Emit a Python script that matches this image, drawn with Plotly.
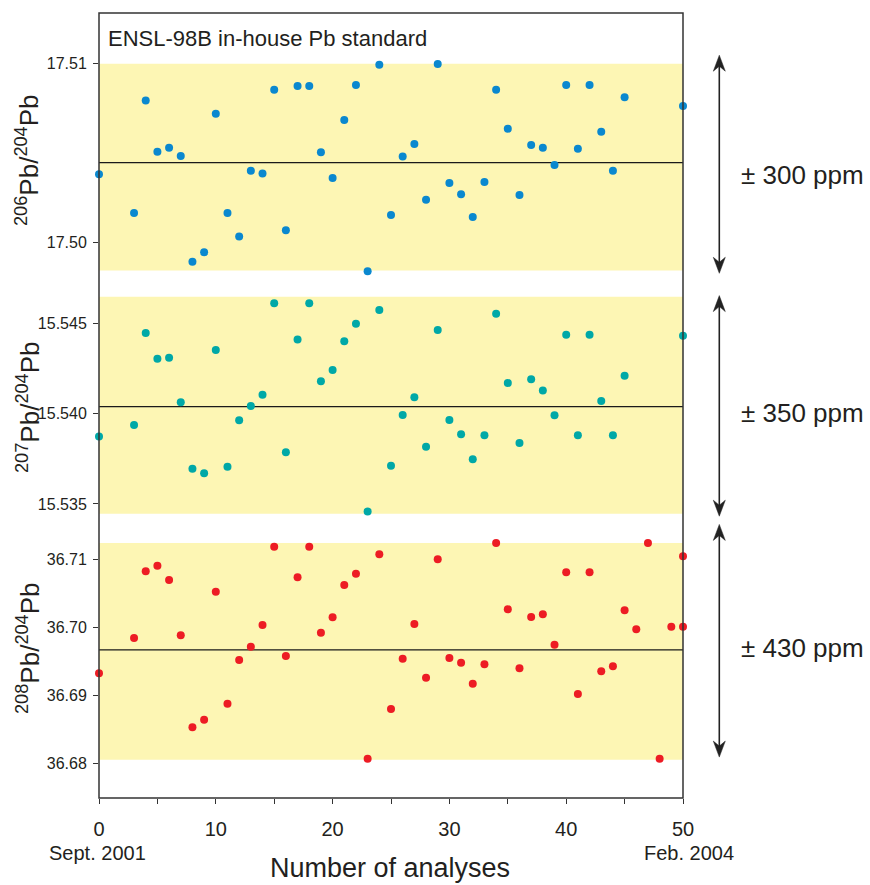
import plotly.graph_objects as go

# ---------------- data ----------------
x_206 = [0, 3, 4, 5, 6, 7, 8, 9, 10, 11, 12, 13, 14, 15, 16, 17, 18, 19, 20, 21, 22, 23, 24, 25,
         26, 27, 28, 29, 30, 31, 32, 33, 34, 35, 36, 37, 38, 39, 40, 41, 42, 43, 44, 45, 50]
pb206_204 = [17.50382, 17.50166, 17.50795, 17.50508, 17.50531, 17.50484, 17.49894, 17.49946,
             17.50721, 17.50166, 17.50035, 17.50402, 17.50387, 17.50855, 17.50069, 17.50875,
             17.50875, 17.50505, 17.50361, 17.50685, 17.50881, 17.49840, 17.50994, 17.50155,
             17.50482, 17.50551, 17.50240, 17.50998, 17.50333, 17.50270, 17.50144, 17.50339,
             17.50855, 17.50637, 17.50266, 17.50546, 17.50531, 17.50434, 17.50881, 17.50525,
             17.50881, 17.50620, 17.50402, 17.50812, 17.50764]

x_207 = [0, 3, 4, 5, 6, 7, 8, 9, 10, 11, 12, 13, 14, 15, 16, 17, 18, 19, 20, 21, 22, 23, 24, 25,
         26, 27, 28, 29, 30, 31, 32, 33, 34, 35, 36, 37, 38, 39, 40, 41, 42, 43, 44, 45, 50]
pb207_204 = [15.53875, 15.53938, 15.54448, 15.54306, 15.54311, 15.54064, 15.53696, 15.53670,
             15.54354, 15.53707, 15.53964, 15.54044, 15.54106, 15.54613, 15.53787, 15.54413,
             15.54613, 15.54181, 15.54243, 15.54402, 15.54500, 15.53459, 15.54576, 15.53712,
             15.53994, 15.54092, 15.53818, 15.54465, 15.53966, 15.53887, 15.53748, 15.53881,
             15.54555, 15.54171, 15.53838, 15.54192, 15.54130, 15.53992, 15.54439, 15.53881,
             15.54439, 15.54071, 15.53881, 15.54212, 15.54433]

x_208 = [0, 3, 4, 5, 6, 7, 8, 9, 10, 11, 12, 13, 14, 15, 16, 17, 18, 19, 20, 21, 22, 23, 24, 25,
         26, 27, 28, 29, 30, 31, 32, 33, 34, 35, 36, 37, 38, 39, 40, 41, 42, 43, 44, 45, 46, 47,
         48, 49, 50, 50]
pb208_204 = [36.69324, 36.69845, 36.70829, 36.70911, 36.70700, 36.69884, 36.68527, 36.68639,
             36.70528, 36.68875, 36.69520, 36.69716, 36.70036, 36.71192, 36.69579, 36.70740,
             36.71192, 36.69923, 36.70150, 36.70627, 36.70793, 36.68064, 36.71080, 36.68797,
             36.69539, 36.70051, 36.69259, 36.71006, 36.69549, 36.69480, 36.69170, 36.69457,
             36.71246, 36.70268, 36.69398, 36.70154, 36.70194, 36.69746, 36.70814, 36.69018,
             36.70814, 36.69353, 36.69427, 36.70253, 36.69973, 36.71246, 36.68064, 36.70011,
             36.71050, 36.70011]

# reproducibility bands (low, high) and mean values
band_206 = [17.49845, 17.51]
band_207 = [15.53446, 15.54650]
band_208 = [36.68049, 36.71246]
mean_206 = 17.50447
mean_207 = 15.54040
mean_208 = 36.69668
ppm_labels = ["± 300 ppm", "± 350 ppm", "± 430 ppm"]

x_ticks = [0, 10, 20, 30, 40, 50]
x_ticktext = ["0", "10", "20", "30", "40", "50"]
y206_ticks = [17.50, 17.51]
y206_text = ["17.50", "17.51"]
y207_ticks = [15.535, 15.540, 15.545]
y207_text = ["15.535", "15.540", "15.545"]
y208_ticks = [36.68, 36.69, 36.70, 36.71]
y208_text = ["36.68", "36.69", "36.70", "36.71"]

# ---------------- layout geometry (pixels) ----------------
W, H = 870, 885
L, R, T, B = 99, 683, 13, 798


def fx(p):
    return (p - L) / (R - L)


def fy(p):
    return (B - p) / (B - T)


FONT = "Liberation Sans, Arial, Helvetica, sans-serif"
TXT = "#231f20"
FRAME = "#333333"
YELLOW = "#fdf6b4"

fig = go.Figure()

panels = [
    dict(x=x_206, y=pb206_204, color="#0a88cf", ax="y", band=band_206, mean=mean_206),
    dict(x=x_207, y=pb207_204, color="#00a8a7", ax="y2", band=band_207, mean=mean_207),
    dict(x=x_208, y=pb208_204, color="#ed1c24", ax="y3", band=band_208, mean=mean_208),
]

shapes = []
for p in panels:
    shapes.append(dict(type="rect", xref="x", yref=p["ax"], x0=0, x1=50,
                       y0=p["band"][0], y1=p["band"][1], fillcolor=YELLOW,
                       line=dict(width=0), layer="below"))
    shapes.append(dict(type="line", xref="x", yref=p["ax"], x0=0, x1=50,
                       y0=p["mean"], y1=p["mean"], line=dict(color="#1a1a1a", width=1.3),
                       layer="below"))
    fig.add_trace(go.Scatter(x=p["x"], y=p["y"], yaxis=p["ax"], xaxis="x", mode="markers",
                             marker=dict(size=8, color=p["color"]), cliponaxis=False,
                             showlegend=False, hoverinfo="x+y"))

# outer frame
shapes.append(dict(type="rect", xref="paper", yref="paper", x0=0, x1=1, y0=0, y1=1,
                   line=dict(color=FRAME, width=1.5), layer="above"))

# double arrows
AX = 719.3
arrows = [(55.2, 273.3), (295.6, 516.2), (524.4, 757.1)]
for top, bot in arrows:
    shapes.append(dict(type="line", xref="paper", yref="paper", x0=fx(AX), x1=fx(AX),
                       y0=fy(top + 10), y1=fy(bot - 10), line=dict(color="#222", width=1.6)))
    for tip, d in ((top, 1), (bot, -1)):
        pts = [(AX, tip), (AX - 6, tip + d * 16), (AX, tip + d * 11), (AX + 6, tip + d * 16)]
        path = "M " + " L ".join(f"{fx(a):.5f},{fy(b):.5f}" for a, b in pts) + " Z"
        shapes.append(dict(type="path", xref="paper", yref="paper", path=path,
                           fillcolor="#222", line=dict(color="#222", width=0.5)))

annotations = [
    dict(text="ENSL-98B in-house Pb standard", x=fx(106), y=fy(39), xanchor="left",
         yanchor="middle", font=dict(size=22, color=TXT)),
    dict(text="Sept. 2001", x=fx(97.5), y=fy(853), xanchor="center", yanchor="middle",
         font=dict(size=20, color=TXT)),
    dict(text="Feb. 2004", x=fx(689), y=fy(853), xanchor="center", yanchor="middle",
         font=dict(size=20, color=TXT)),
    dict(text="Number of analyses", x=fx(390), y=fy(868), xanchor="center", yanchor="middle",
         font=dict(size=27, color=TXT)),
]
ytitles = ["<sup>206</sup>Pb/<sup>204</sup>Pb", "<sup>207</sup>Pb/<sup>204</sup>Pb",
           "<sup>208</sup>Pb/<sup>204</sup>Pb"]
ytitle_y = [160, 407, 648]
for t, yy in zip(ytitles, ytitle_y):
    annotations.append(dict(text=t, x=fx(28), y=fy(yy), textangle=-90, xanchor="center",
                            yanchor="middle", font=dict(size=26, color=TXT)))
for t, yy in zip(ppm_labels, [175, 413, 648]):
    annotations.append(dict(text=t, x=fx(739), y=fy(yy), xanchor="left", yanchor="middle",
                            font=dict(size=26, color=TXT)))
for a in annotations:
    a.update(xref="paper", yref="paper", showarrow=False)

yax_common = dict(ticks="outside", ticklen=5, tickwidth=1.2, tickcolor=FRAME, showgrid=False,
                  zeroline=False, showline=False, anchor="x", tickmode="array",
                  ticklabelstandoff=3,
                  tickfont=dict(size=16, color=TXT, family=FONT))

fig.update_layout(
    width=W, height=H,
    margin=dict(l=L, r=W - R, t=T, b=H - B, pad=0),
    paper_bgcolor="white", plot_bgcolor="rgba(0,0,0,0)",
    font=dict(family=FONT, color=TXT),
    showlegend=False,
    xaxis=dict(domain=[0, 1], range=[0, 50], anchor="y3", tickmode="array",
               tickvals=x_ticks, ticktext=x_ticktext, ticks="outside", ticklen=5,
               tickwidth=1.2, tickcolor=FRAME, showgrid=False, zeroline=False,
               showline=False, tickfont=dict(size=20, color=TXT, family=FONT),
               ticklabelstandoff=8,
               minor=dict(ticks="outside", ticklen=5, tickwidth=1.2, tickcolor=FRAME,
                          tick0=0, dtick=5, showgrid=False)),
    yaxis=dict(domain=[fy(284), 1], range=[17.497693, 17.512832], tickvals=y206_ticks,
               ticktext=y206_text, **yax_common),
    yaxis2=dict(domain=[fy(527), fy(284)], range=[15.533724, 15.547202], tickvals=y207_ticks,
                ticktext=y207_text, **yax_common),
    yaxis3=dict(domain=[0, fy(527)], range=[36.674837, 36.714825], tickvals=y208_ticks,
                ticktext=y208_text, **yax_common),
    shapes=shapes,
    annotations=annotations,
)

fig.write_html("out.html")
